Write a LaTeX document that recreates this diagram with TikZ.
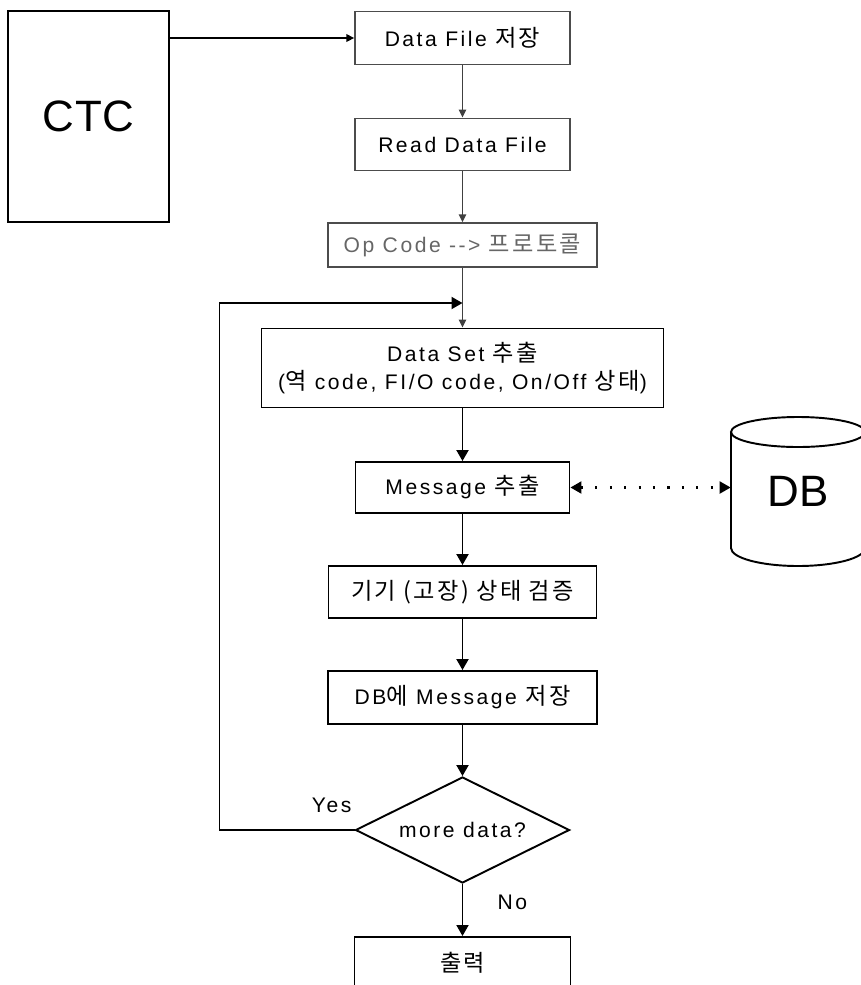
\documentclass[tikz,border=0pt]{standalone}
\usepackage{fontspec}
\setmainfont{Liberation Sans}[LetterSpace=12]
\newfontfamily\krfont{Noto Sans CJK KR}[Scale=1.1,LetterSpace=10]
\newcommand{\kr}[1]{{\krfont #1}}
\usetikzlibrary{arrows.meta,positioning,shapes}

\begin{document}
\begin{tikzpicture}[x=0.2mm,y=-0.2mm,font=\fontsize{12}{16}\selectfont,b/.style={draw,line width=1.1pt,inner xsep=0pt,minimum height=1.04cm},bt/.style={draw=black!70,line width=0.8pt,minimum width=4.3cm,minimum height=1.05cm},a/.style={-{Triangle[length=2.2mm,width=2.4mm]},line width=1.1pt},as/.style={-{Triangle[length=1.6mm,width=1.5mm]},line width=0.8pt,black!75},lbl/.style={inner sep=1pt}]
\useasboundingbox (0,0) rectangle (861,985);
\clip (0,0) rectangle (861,985);
\node[draw,line width=1pt,minimum width=3.22cm,minimum height=4.22cm,font=\fontsize{25}{30}\selectfont\addfontfeature{LetterSpace=2}] (ctc) at (88.5,116.5) {CTC};
\node[bt] (df) at (462.5,38) {Data File \kr{저장}};
\node[bt] (rd) at (462.5,144.5) {Read Data File};
\node[bt,minimum width=5.38cm,minimum height=0.88cm,inner xsep=0pt,text=black!60] (op) at (462.5,245) {Op Code -{}-{}> \kr{프로토콜}};
\node[b,minimum width=8.04cm,minimum height=1.58cm,align=center] (ds) at (462.5,368) {Data Set \kr{추출}\\(\kr{역} code, FI/O code, On/Off \kr{상태})};
\node[b,minimum width=4.28cm,minimum height=1.02cm] (msg) at (462.5,487.5) {Message \kr{추출}};
\node[b,minimum width=5.36cm] (chk) at (462.5,592) {\kr{기기 (고장) 상태 검증}};
\node[b,minimum width=5.38cm,minimum height=1.06cm] (sv) at (462.5,697.5) {DB\kr{에} Message \kr{저장}};
\node[draw,diamond,aspect=2,line width=1.1pt,minimum width=4.28cm,minimum height=2.12cm,inner sep=0pt] (dec) at (462.5,830) {more data?};
\node[b,minimum width=4.32cm,anchor=north] (out) at (462.5,936) {\kr{출력}};
% database drum, cut by the right margin
\node[minimum width=2.68cm,minimum height=2.3cm,font=\fontsize{25}{30}\selectfont\addfontfeature{LetterSpace=2}] (db) at (798,491) {DB};
\draw[line width=1.1pt] (731,432) -- (731,548) arc[start angle=180,end angle=360,x radius=1.34cm,y radius=0.36cm] -- (865,432);
\draw[line width=1.1pt] (798,432) ellipse [x radius=1.34cm,y radius=0.3cm];
\coordinate (jn) at (462.5,303);
\draw[as,line width=1.1pt,black] (ctc.east |- df.west) -- (df.west);
\draw[as] (df) -- (rd);
\draw[as] (rd) -- (op);
\draw[as] (op.south) -- (ds.north);
\draw[a] (ds) -- (msg);
\draw[line width=1.2pt,dash pattern=on 1.2pt off 7pt,{Triangle[length=2.2mm,width=2.4mm]}-{Triangle[length=2.2mm,width=2.4mm]}] (msg.east) -- (msg.east -| db.west);
\draw[a] (msg) -- (chk);
\draw[a] (chk) -- (sv);
\draw[a] (sv) -- (dec);
\draw[a] (dec) -- (out) node[lbl,pos=0.36,right=0.65cm]{No};
\draw[a] (dec.west) -- ++(-135,0) node[lbl,pos=0.17,above=0.3cm]{Yes} |- (jn);
\end{tikzpicture}
\end{document}
